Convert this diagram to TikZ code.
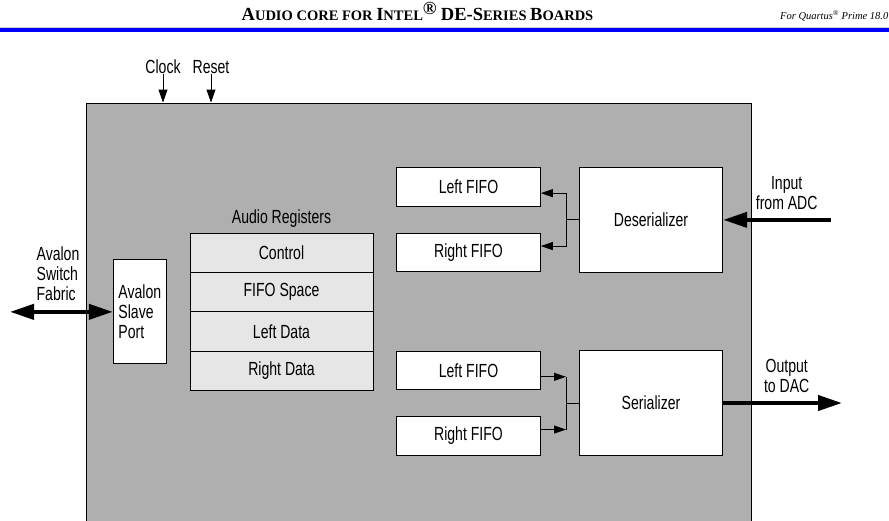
\documentclass[tikz,border=0pt]{standalone}
\usepackage{fontspec}
\setmainfont{Liberation Sans}
\newfontfamily\diagfont[FakeStretch=0.74]{Liberation Sans}
\newfontfamily\headfont{Liberation Serif}
\usetikzlibrary{arrows.meta, positioning}

\definecolor{coregray}{HTML}{AFAFAF}
\definecolor{reggray}{HTML}{E6E6E6}
\definecolor{headblue}{HTML}{0000FF}

% full size capital in the small caps title
\newcommand{\titlecap}[1]{{\fontsize{18.5}{20}\selectfont #1}}

\begin{document}
\begin{tikzpicture}[x=1pt, y=-1pt,
  box/.style={draw, line width=1pt, fill=white, inner sep=0pt,
    font=\diagfont\fontsize{19}{20}\selectfont},
  lbl/.style={inner sep=0pt, align=center,
    font=\diagfont\fontsize{19}{20}\selectfont},
  fifo/.style={box, minimum width=143.6pt, minimum height=38.5pt},
  conv/.style={box, minimum width=143.4pt, minimum height=104.3pt},
  regbox/.style={box, fill=reggray, minimum width=183pt, minimum height=39.3pt},
  wire/.style={line width=1pt},
  sig/.style={wire, -{Triangle[length=12pt,width=8pt]}},
  tick/.style={wire, -{Triangle[length=13pt,width=9pt]}},
  bus/.style={line width=4pt, -{Triangle[length=24pt,width=15pt]}},
  busboth/.style={line width=4pt, {Triangle[length=24pt,width=15pt]}-{Triangle[length=24pt,width=15pt]}}
]

\useasboundingbox (0,0) rectangle (889,520);
\clip (0,0) rectangle (889,520);

% page header
\node[anchor=base, inner sep=0pt] (title) at (417.5,20)
  {\headfont\bfseries\fontsize{14.5}{16}\selectfont
   \titlecap{A}UDIO CORE FOR \titlecap{I}NTEL\textsuperscript{\titlecap{\textregistered}}
   \titlecap{DE-S}ERIES \titlecap{B}OARDS};
\node[anchor=base east, inner sep=0pt] (release) at (888.5,19)
  {\headfont\itshape\fontsize{10.5}{12}\selectfont For Quartus\textsuperscript{\textregistered} Prime 18.0};
\draw[black!20, line width=0.8pt] (0,27) -- (889,27);
\fill[headblue] (0,28) rectangle (889,32);

% audio core
\node[draw, line width=1.2pt, fill=coregray, anchor=north west,
  minimum width=665.5pt, minimum height=430pt] (core) at (85.5,102.5) {};

\node[lbl] (clk) at (163,67) {Clock};
\node[lbl] (rst) at (211,67) {Reset};
\draw[tick] (clk.south) -- (clk.south |- core.north);
\draw[tick] (rst.south) -- (rst.south |- core.north);

\node[box, align=left, minimum width=53pt, minimum height=104pt] (slave)
  at (139.8,311.85) {Avalon\\Slave\\Port};
\node[lbl, align=left] (fablbl) at (58,273.5) {Avalon\\Switch\\Fabric};
\coordinate (fab) at (10,311.85);
\draw[busboth] (fab) -- (slave.west);

\foreach \reg/\name [count=\i from 0] in
    {ctrl/Control, space/FIFO Space, ldata/Left Data, rdata/Right Data} {
  \node[regbox] (\reg) at (281.5,252.95+\i*39.3) {\name};
}
\node[lbl, anchor=base] (regtitle) at (281.5,223) {Audio Registers};

% input side
\node[fifo] (lfifoA) at (468.5,186.85) {Left FIFO};
\node[fifo] (rfifoA) at (468.5,252.35) {Right FIFO};
\node[conv] (deser) at (651,219.85) {Deserializer};
\coordinate (jd) at (566.7,219.85);
\draw[wire] (deser.west) -- (jd);
\draw[sig] (jd) |- ([yshift=-6.3pt]lfifoA.east);
\draw[sig] (jd) |- ([yshift=6.3pt]rfifoA.east);
\node[lbl] (adclbl) at (786.7,193) {Input\\from ADC};
\coordinate (adc) at (830.7,219.85);
\draw[bus] (adc) -- (deser.east);

% output side
\node[fifo] (lfifoB) at (468.5,370.5) {Left FIFO};
\node[fifo] (rfifoB) at (468.5,435.85) {Right FIFO};
\node[conv] (ser) at (651,403) {Serializer};
\coordinate (js) at (566,403);
\draw[sig] ([yshift=-6.3pt]lfifoB.east) -- ([yshift=-6.3pt]lfifoB.east -| js);
\draw[sig] ([yshift=6.3pt]rfifoB.east) -- ([yshift=6.3pt]rfifoB.east -| js);
\draw[wire] ([yshift=-6.3pt]lfifoB.east -| js) -- ([yshift=6.3pt]rfifoB.east -| js);
\draw[wire] (js) -- (ser.west);
\node[lbl] (daclbl) at (786.7,376) {Output\\to DAC};
\coordinate (dac) at (842,403);
\draw[bus] (ser.east) -- (dac);

\end{tikzpicture}
\end{document}
